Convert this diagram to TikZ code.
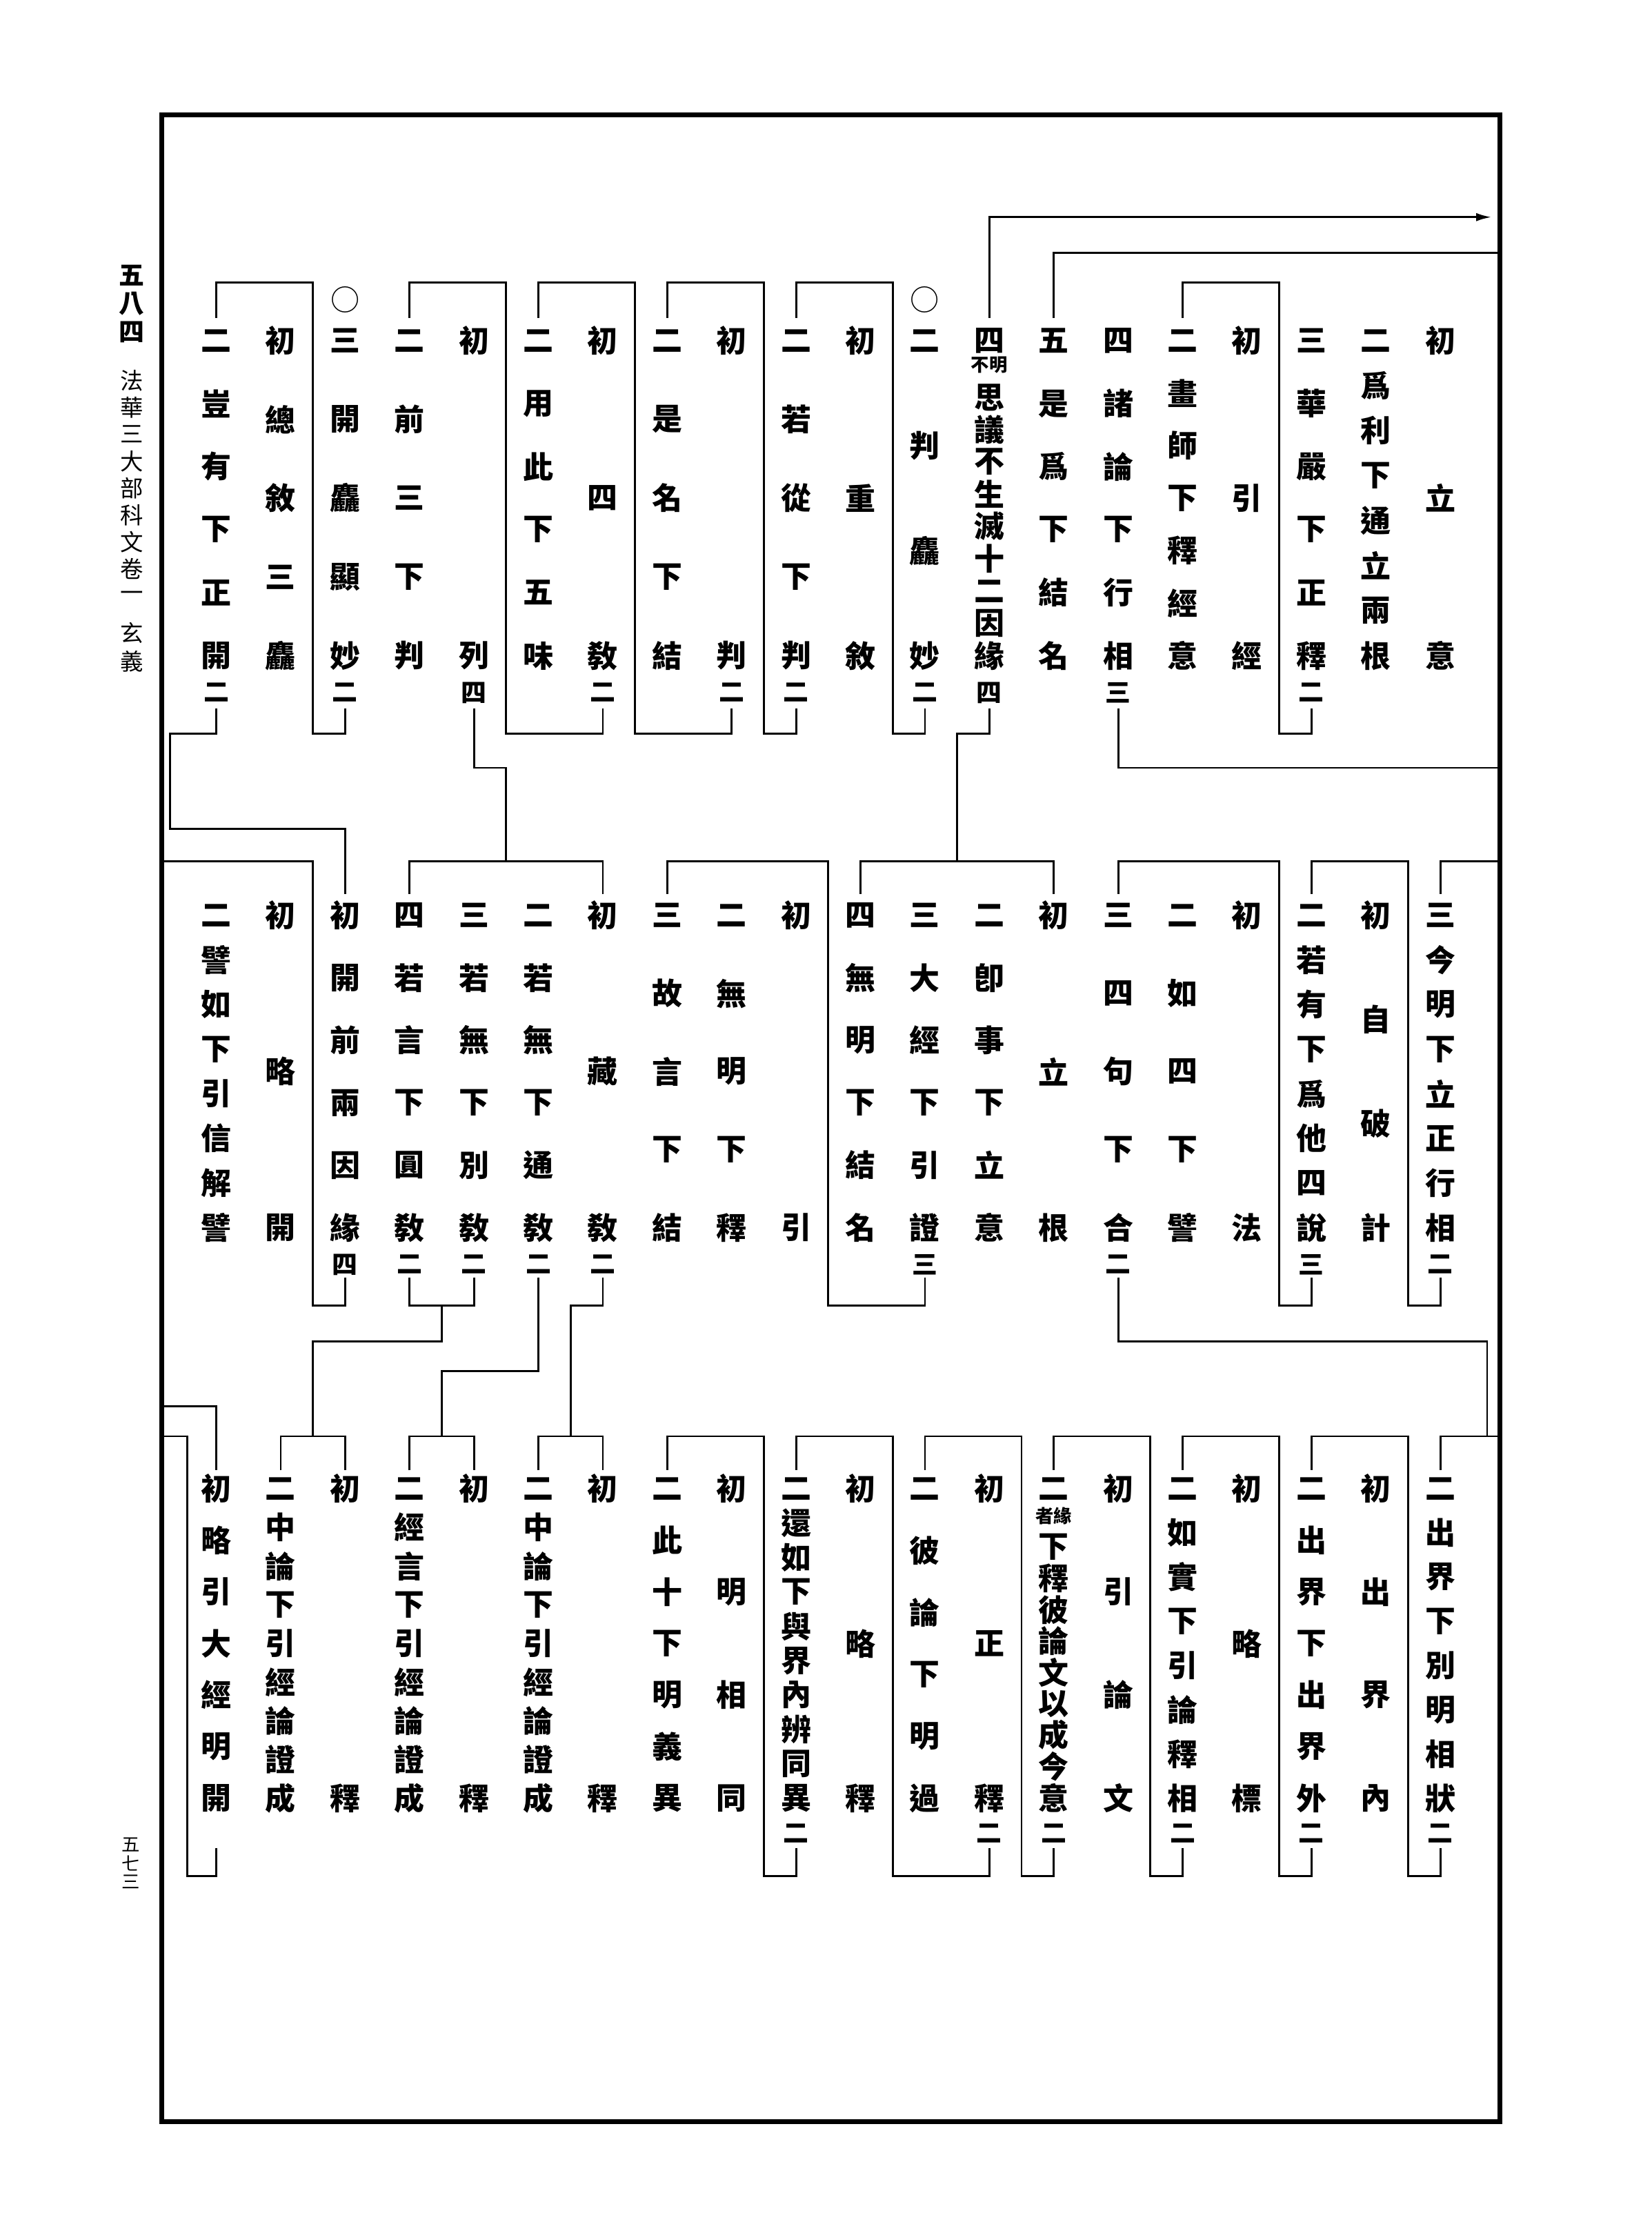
\documentclass[tikz,border=0pt]{standalone}
\usepackage{fontspec}
\newfontfamily\cjk{Noto Sans CJK TC}
\usetikzlibrary{arrows.meta}
\pgfmathdeclarefunction{kx}{1}{\pgfmathparse{1015-45.4*(#1-1)}}
\begin{document}
\begin{tikzpicture}[x=0.2057mm,y=-0.2057mm,
	zi/.style={font=\cjk\bfseries\fontsize{12.5}{12.5}\selectfont,inner sep=0pt},
	shu/.style={font=\cjk\bfseries\fontsize{10.5}{10.5}\selectfont,inner sep=0pt},
	xiao/.style={font=\cjk\bfseries\fontsize{7.5}{7.5}\selectfont,inner sep=0pt},
	quan/.style={font=\cjk\fontsize{12}{12}\selectfont,inner sep=0pt},
	biao/.style={font=\cjk\fontsize{9.5}{9.5}\selectfont,inner sep=0pt},
	hao/.style={font=\cjk\bfseries\fontsize{10.5}{10.5}\selectfont,inner sep=0pt},
	yema/.style={font=\cjk\fontsize{7.5}{7.5}\selectfont,inner sep=0pt},
	xian/.style={line width=0.8pt},
	kuang/.style={line width=2pt}]% 法華三大部科文 玄義
	\useasboundingbox (0,0) rectangle (1164,1572);
	\draw[kuang] (114,81) rectangle (1057,1495);
	% columns and levels
	\foreach \i in {1,...,20} \coordinate (x\i) at ({kx(\i)},0);
	\foreach \i in {1,...,19} \coordinate (m\i) at ({kx(\i)-22.7},0);
	\foreach \nm/\y in {t1/199,a1/224,c1/499,b1/517,t2/607,a2/630,c2/900,b2/920,t3/1012,a3/1036,c3/1302,b3/1322,s1/153,s2/178,d1/541,e1/584,d2/945,e2/966,f3/991}
	\coordinate (\nm) at (0,\y);
	\foreach \nm/\x in {fl/114,fr/1057,v1/120,v2/1048,v3/132,ar/1051}
	\coordinate (\nm) at (\x,0);
	% margin
	\foreach \ch [count=\k] in {五,八,四}
	\node[hao] (ye\k) at (93,{194+20*(\k-1)}) {\ch};
	\foreach \ch [count=\k] in {法,華,三,大,部,科,文,卷,一}
	\node[biao] (bt\k) at (93,{268+19*(\k-1)}) {\ch};
	\node[biao] (bt10) at (93,446) {玄};
	\node[biao] (bt11) at (93,466) {義};
	\foreach \ch [count=\k] in {五,七,三}
	\node[yema] (ym\k) at (92,{1300+13*(\k-1)}) {\ch};
	% row 1
	\foreach \col/\txt/\cnt in {1/{初,立,意}/{},2/{二,爲,利,下,通,立,兩,根}/{},3/{三,華,嚴,下,正,釋}/二,
		4/{初,引,經}/{},5/{二,畫,師,下,釋,經,意}/{},6/{四,諸,論,下,行,相}/三,7/{五,是,爲,下,結,名}/{},
		9/{二,判,麤,妙}/二,10/{初,重,敘}/{},11/{二,若,從,下,判}/二,12/{初,判}/二,13/{二,是,名,下,結}/{},
		14/{初,四,敎}/二,15/{二,用,此,下,五,味}/{},16/{初,列}/四,17/{二,前,三,下,判}/{},
		18/{三,開,麤,顯,妙}/二,19/{初,總,敘,三,麤}/{},20/{二,豈,有,下,正,開}/二}{
		\foreach \ch [count=\k] in \txt {\xdef\nc{\k}}
		\foreach \ch [count=\k] in \txt
		\node[zi] (z1-\col-\k) at ({kx(\col)},{240+222*(\k-1)/(\nc-1)}) {\ch};
		\node[shu] (z1-\col-n) at ({kx(\col)},488) {\cnt};
	}
	\node[zi] (z1-8-0) at ({kx(8)},240) {四};
	\node[xiao] (z1-8-a) at ({kx(8)},257) {不明};
	\foreach \ch [count=\k] in {思,議,不,生,滅,十,二,因,緣}
	\node[zi] (z1-8-\k) at ({kx(8)},{280+22.75*(\k-1)}) {\ch};
	\node[shu] (z1-8-n) at ({kx(8)},488) {四};
	\node[quan] (z1-9-o) at ({kx(9)},211) {○};
	\node[quan] (z1-18-o) at ({kx(18)},211) {○};
	% row 2
	\foreach \col/\txt/\cnt in {1/{三,今,明,下,立,正,行,相}/二,2/{初,自,破,計}/{},3/{二,若,有,下,爲,他,四,說}/三,
		4/{初,法}/{},5/{二,如,四,下,譬}/{},6/{三,四,句,下,合}/二,7/{初,立,根}/{},8/{二,卽,事,下,立,意}/{},
		9/{三,大,經,下,引,證}/三,10/{四,無,明,下,結,名}/{},11/{初,引}/{},12/{二,無,明,下,釋}/{},
		13/{三,故,言,下,結}/{},14/{初,藏,敎}/二,15/{二,若,無,下,通,敎}/二,16/{三,若,無,下,別,敎}/二,
		17/{四,若,言,下,圓,敎}/二,18/{初,開,前,兩,因,緣}/四,19/{初,略,開}/{},20/{二,譬,如,下,引,信,解,譬}/{}}{
		\foreach \ch [count=\k] in \txt {\xdef\nc{\k}}
		\foreach \ch [count=\k] in \txt
		\node[zi] (z2-\col-\k) at ({kx(\col)},{645+220*(\k-1)/(\nc-1)}) {\ch};
		\node[shu] (z2-\col-n) at ({kx(\col)},891) {\cnt};
	}
	% row 3
	\foreach \col/\txt/\cnt in {1/{二,出,界,下,別,明,相,狀}/二,2/{初,出,界,內}/{},3/{二,出,界,下,出,界,外}/二,
		4/{初,略,標}/{},5/{二,如,實,下,引,論,釋,相}/二,6/{初,引,論,文}/{},8/{初,正,釋}/二,
		9/{二,彼,論,下,明,過}/{},10/{初,略,釋}/{},11/{二,還,如,下,與,界,內,辨,同,異}/二,
		12/{初,明,相,同}/{},13/{二,此,十,下,明,義,異}/{},14/{初,釋}/{},15/{二,中,論,下,引,經,論,證,成}/{},
		16/{初,釋}/{},17/{二,經,言,下,引,經,論,證,成}/{},18/{初,釋}/{},19/{二,中,論,下,引,經,論,證,成}/{},
		20/{初,略,引,大,經,明,開}/{}}{
		\foreach \ch [count=\k] in \txt {\xdef\nc{\k}}
		\foreach \ch [count=\k] in \txt
		\node[zi] (z3-\col-\k) at ({kx(\col)},{1049+218*(\k-1)/(\nc-1)}) {\ch};
		\node[shu] (z3-\col-n) at ({kx(\col)},1292) {\cnt};
	}
	\node[zi] (z3-7-0) at ({kx(7)},1049) {二};
	\node[xiao] (z3-7-a) at ({kx(7)},1068) {者緣};
	\foreach \ch [count=\k] in {下,釋,彼,論,文,以,成,今,意}
	\node[zi] (z3-7-\k) at ({kx(7)},{1090+22.1*(\k-1)}) {\ch};
	\node[shu] (z3-7-n) at ({kx(7)},1292) {二};
	% brackets inside rows
	\foreach \p/\m/\l in {3/3/5,9/9/11,11/11/13,12/13/15,14/15/17,18/18/20}
	\draw[xian] (x\p |- c1)--(x\p |- b1)--(m\m |- b1)--(m\m |- t1)--(x\l |- t1)--(x\l |- a1);
	\foreach \p/\m/\l in {1/1/3,3/3/6,9/10/13}
	\draw[xian] (x\p |- c2)--(x\p |- b2)--(m\m |- b2)--(m\m |- t2)--(x\l |- t2)--(x\l |- a2);
	\foreach \p/\m/\l in {1/1/3,3/3/5,5/5/7,7/7/9,8/9/11,11/11/13}
	\draw[xian] (x\p |- c3)--(x\p |- b3)--(m\m |- b3)--(m\m |- t3)--(x\l |- t3)--(x\l |- a3);
	% links between rows
	\draw[xian,-{Latex[length=2.2mm,width=1.2mm]}] (x8 |- a1)--(x8 |- s1)--(ar |- s1);
	\draw[xian] (x7 |- a1)--(x7 |- s2)--(fr |- s2);
	\draw[xian] (x6 |- c1)--(x6 |- d1)--(fr |- d1)--(fr |- t2)--(x1 |- t2)--(x1 |- a2);
	\draw[xian] (x8 |- c1)--(x8 |- b1)--(m8 |- b1)--(m8 |- t2);
	\draw[xian] (x7 |- a2)--(x7 |- t2)--(x10 |- t2)--(x10 |- a2);
	\draw[xian] (x16 |- c1)--(x16 |- d1)--(m15 |- d1)--(m15 |- t2);
	\draw[xian] (x14 |- a2)--(x14 |- t2)--(x17 |- t2)--(x17 |- a2);
	\draw[xian] (x20 |- c1)--(x20 |- b1)--(v1 |- b1)--(v1 |- e1)--(x18 |- e1)--(x18 |- a2);
	\draw[xian] (x18 |- c2)--(x18 |- b2)--(m18 |- b2)--(m18 |- t2)--(fl |- t2);
	\draw[xian] (x6 |- c2)--(x6 |- d2)--(v2 |- d2)--(v2 |- t3);
	\draw[xian] (fr |- t3)--(x1 |- t3)--(x1 |- a3);
	\draw[xian] (x14 |- c2)--(x14 |- b2)--(m14 |- b2)--(m14 |- t3);
	\draw[xian] (x15 |- a3)--(x15 |- t3)--(x14 |- t3)--(x14 |- a3);
	\draw[xian] (x15 |- c2)--(x15 |- e2)--(m16 |- e2)--(m16 |- t3);
	\draw[xian] (x17 |- a3)--(x17 |- t3)--(x16 |- t3)--(x16 |- a3);
	\draw[xian] (x16 |- c2)--(x16 |- b2)--(x17 |- b2)--(x17 |- c2);
	\draw[xian] (m16 |- b2)--(m16 |- d2)--(m18 |- d2)--(m18 |- t3);
	\draw[xian] (x19 |- a3)--(x19 |- t3)--(x18 |- t3)--(x18 |- a3);
	\draw[xian] (fl |- f3)--(x20 |- f3)--(x20 |- a3);
	\draw[xian] (x20 |- c3)--(x20 |- b3)--(v3 |- b3)--(v3 |- t3)--(fl |- t3);
\end{tikzpicture}
\end{document}
